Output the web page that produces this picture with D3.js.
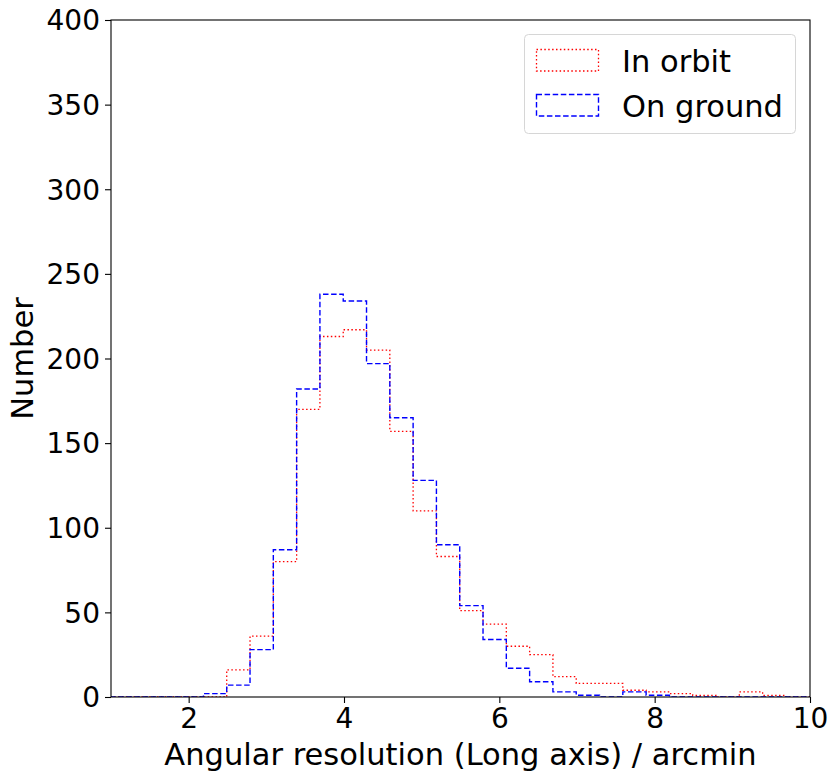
<!DOCTYPE html>
<html>
<head>
<meta charset="utf-8">
<script src="https://cdn.jsdelivr.net/npm/d3@7"></script>
<style>
  html, body { margin: 0; padding: 0; background: #fff; }
  svg { display: block; font-family: "DejaVu Sans", sans-serif; }
</style>
</head>
<body>
<svg id="chart" width="832" height="773"></svg>
<script>
// ---- data ----
const binEdges = [0.99, 1.29, 1.59, 1.89, 2.19, 2.49, 2.79, 3.09, 3.39, 3.69, 3.99,
                  4.29, 4.59, 4.89, 5.19, 5.49, 5.79, 6.09, 6.39, 6.69, 6.99,
                  7.29, 7.59, 7.89, 8.19, 8.49, 8.79, 9.09, 9.39, 9.69, 9.99, 10.29];
const inOrbit  = [0, 0, 0, 0, 0, 16, 36, 80, 170, 213, 217, 205, 157, 110, 83, 51,
                  43, 30, 25, 12, 8, 8, 4, 3, 2, 1, 0, 3, 1, 0, 0];
const onGround = [0, 0, 0, 0, 2, 7, 28, 87, 182, 238, 234, 197, 165, 128, 90, 54,
                  34, 17, 9, 3, 1, 0, 3, 1, 0, 0, 0, 0, 0, 0, 0];
const xTicks = [2, 4, 6, 8, 10];
const yTicks = [0, 50, 100, 150, 200, 250, 300, 350, 400];
const seriesNames = ["In orbit", "On ground"];
const xTitle = "Angular resolution (Long axis) / arcmin";
const yTitle = "Number";

// ---- layout ----
const L = 111, R = 810, T = 20, B = 697;
const svg = d3.select("#chart");
const x = d3.scaleLinear().domain([1, 10]).range([L, R]);
const y = d3.scaleLinear().domain([0, 400]).range([B, T]);

svg.append("defs").append("clipPath").attr("id", "clip")
  .append("rect").attr("x", L).attr("y", T - 2).attr("width", R - L).attr("height", B - T + 2);

function stepPoints(counts) {
  const pts = [[binEdges[0], 0]];
  counts.forEach((c, i) => { pts.push([binEdges[i], c]); pts.push([binEdges[i + 1], c]); });
  pts.push([binEdges[binEdges.length - 1], 0]);
  return pts;
}
const line = d3.line().x(d => x(d[0])).y(d => y(d[1]));

const styles = [
  { color: "#ff0000", dash: "1.5,2.4", width: 1.3 },
  { color: "#0000ff", dash: "5.5,2.6", width: 1.4 }
];
const data = [inOrbit, onGround];

const g = svg.append("g").attr("clip-path", "url(#clip)");
data.forEach((d, i) => {
  g.append("path").attr("d", line(stepPoints(d)))
    .attr("fill", "none").attr("stroke", styles[i].color)
    .attr("stroke-width", styles[i].width).attr("stroke-dasharray", styles[i].dash);
});

// ---- axes ----
const xAxis = d3.axisBottom(x).tickValues(xTicks).tickSize(6).tickPadding(5).tickFormat(d3.format("d"));
const yAxis = d3.axisLeft(y).tickValues(yTicks).tickSize(6).tickPadding(5).tickFormat(d3.format("d"));
const gx = svg.append("g").attr("transform", `translate(0,${B})`).call(xAxis);
const gy = svg.append("g").attr("transform", `translate(${L},0)`).call(yAxis);
[gx, gy].forEach(a => {
  a.select(".domain").remove();
  a.selectAll(".tick line").attr("stroke", "#000").attr("stroke-width", 1.1);
  a.selectAll(".tick text").attr("fill", "#000").style("font-size", "28px")
    .style("font-family", "DejaVu Sans");
});
gy.selectAll(".tick text").attr("dy", "0.35em");

// frame
svg.append("rect").attr("x", L).attr("y", T).attr("width", R - L).attr("height", B - T)
  .attr("fill", "none").attr("stroke", "#000").attr("stroke-width", 1.1);

// titles
svg.append("text").attr("x", (L + R) / 2).attr("y", 765).attr("text-anchor", "middle")
  .style("font-size", "30.5px").attr("fill", "#000").text(xTitle);
svg.append("text").attr("transform", `translate(33,${(T + B) / 2}) rotate(-90)`)
  .attr("text-anchor", "middle").style("font-size", "30.5px").attr("fill", "#000").text(yTitle);

// legend
const lg = svg.append("g");
lg.append("rect").attr("x", 524.5).attr("y", 34.5).attr("width", 271).attr("height", 99)
  .attr("rx", 4).attr("fill", "#fff").attr("fill-opacity", 0.8)
  .attr("stroke", "#d6d6d6").attr("stroke-width", 1);
seriesNames.forEach((name, i) => {
  const yy = 49.5 + i * 45;
  lg.append("rect").attr("x", 536.5).attr("y", yy).attr("width", 62).attr("height", 21.5)
    .attr("fill", "none").attr("stroke", styles[i].color).attr("stroke-width", styles[i].width)
    .attr("stroke-dasharray", styles[i].dash);
  lg.append("text").attr("x", 622).attr("y", yy + 22).style("font-size", "30.5px")
    .attr("fill", "#000").text(name);
});
</script>
</body>
</html>
